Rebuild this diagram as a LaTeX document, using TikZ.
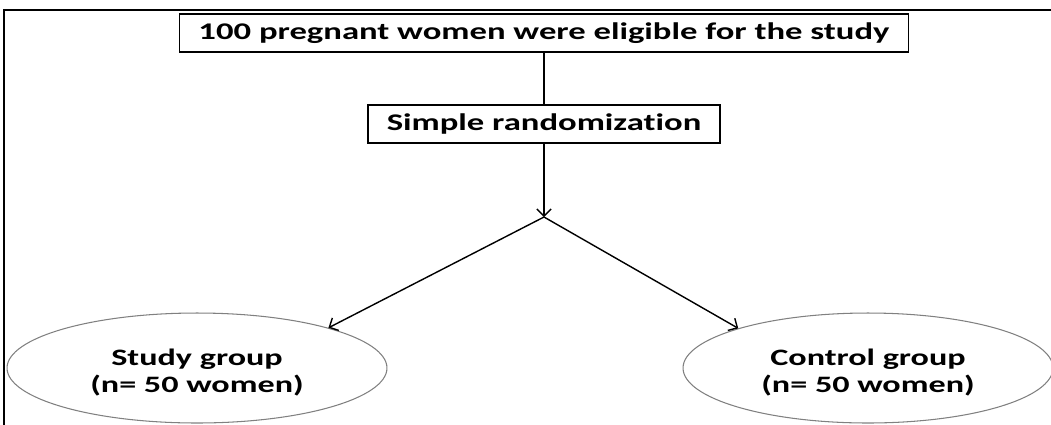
\documentclass[tikz,border=0pt]{standalone}
\usepackage{fontspec}
\setmainfont{Carlito}[FakeStretch=1.45, Ligatures=NoCommon]
\usetikzlibrary{shapes.geometric,arrows.meta}

\begin{document}
\begin{tikzpicture}[x=0.02cm, y=-0.02cm,
  box/.style={draw, line width=1pt, inner sep=0pt,
    font=\bfseries\fontsize{13.6}{16}\selectfont},
  group/.style={ellipse, draw=gray, line width=0.6pt, inner sep=0pt,
    align=center, minimum height=2.2cm,
    font=\bfseries\fontsize{13.4}{15.3}\selectfont},
  link/.style={line width=0.8pt, -{Straight Barb[length=4pt,width=8pt]}}]
  \useasboundingbox (0,0) rectangle (1051,424);

  % Frame
  \draw[line width=1pt] (4,440) -- (4,10) -- (1060,10);

  % Boxes
  \node[box, minimum width=14.58cm, minimum height=0.76cm] (eligible)
    at (544,33) {100 pregnant women were eligible for the study};
  \node[box, minimum width=7.04cm, minimum height=0.76cm] (random)
    at (544,124) {Simple randomization};
  \coordinate (split) at (544,217);

  % Groups
  \node[group, minimum width=7.6cm] (study) at (197,368)
    {\rule{0pt}{15pt}Study group\\(n= 50 women)};
  \node[group, minimum width=7.4cm] (control) at (868,368)
    {\rule{0pt}{15pt}Control group\\(n= 50 women)};

  \draw[line width=0.8pt] (eligible) -- (random);
  \draw[link] (random) -- (split);
  \draw[link] (split) -- (study.17);
  \draw[link] (split) -- (control.163);
\end{tikzpicture}
\end{document}
